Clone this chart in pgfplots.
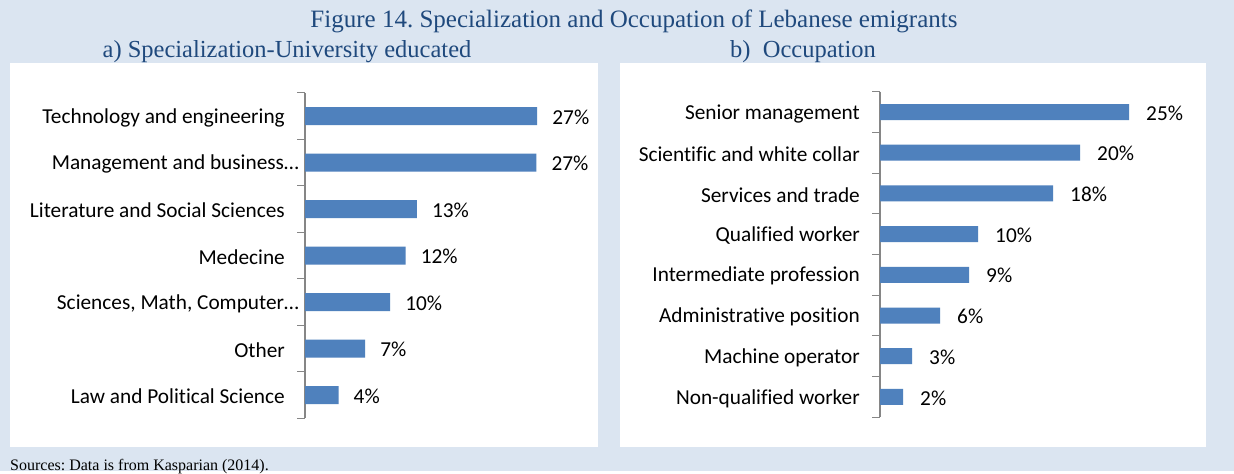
\documentclass[border=0pt]{standalone}
\usepackage{fontspec}
\setmainfont{Liberation Serif}
\newfontfamily\calfont[Ligatures=NoCommon]{Carlito}
\usepackage{pgfplots}
\pgfplotsset{compat=1.18}
\frenchspacing

\definecolor{bgc}{HTML}{DBE5F1}
\definecolor{barc}{HTML}{4F81BD}
\definecolor{ttl}{HTML}{1F497D}
\definecolor{axc}{HTML}{868686}

\newcommand\lblfont{\calfont\fontsize{21.3}{25}\selectfont}

\pgfplotsset{
  hbar/.style={
    xbar, bar shift=0pt,
    axis x line=none, axis y line*=left,
    y dir=reverse, xmin=0, xmax=30,
    anchor=origin, clip=false,
    tick align=outside, ytick pos=left,
    major tick length=0pt, minor tick length=8pt,
    tick style={axc, line width=1pt},
    axis line style={axc, line width=1.3pt},
    yticklabel style={font=\lblfont, black, anchor=east, inner sep=0pt, xshift=-20pt, yshift=-1.5pt},
    point meta=explicit symbolic,
    nodes near coords,
    every node near coord/.append style={font=\lblfont, black, inner sep=0pt, anchor=west, xshift=15pt, yshift=-1pt},
  }
}

\begin{document}
\begin{tikzpicture}
\fill[bgc] (0pt,0pt) rectangle (1234pt,-471pt);
\fill[white] (10pt,-63pt) rectangle (598pt,-447pt);
\fill[white] (620pt,-63pt) rectangle (1206pt,-447pt);

\node[anchor=base, font=\fontsize{25}{30}\selectfont, text=ttl] at (634pt,-27pt)
  {Figure 14. Specialization and Occupation of Lebanese emigrants};
\node[anchor=base, font=\fontsize{24.5}{29}\selectfont, text=ttl] at (287pt,-57pt)
  {a) Specialization-University educated};
\node[anchor=base, font=\fontsize{24.5}{29}\selectfont, text=ttl] at (803pt,-57pt)
  {b)\ \ Occupation};
\node[anchor=base west, font=\fontsize{16}{19}\selectfont, inner sep=0pt] at (10pt,-470pt)
  {Sources: Data is from Kasparian (2014).};

% a) specialization
\begin{axis}[hbar,
  at={(305pt,-116pt)}, x=8.6pt, y=46.5pt,
  ymin=-0.5, ymax=6.5,
  ytick={0,...,6},
  minor ytick={-0.5,0.5,...,6.5},
  yticklabels={Technology and engineering, {Management and business…\kern-14pt},
    Literature and Social Sciences, Medecine, {Sciences, Math, Computer…\kern-14pt},
    Other, Law and Political Science},
]
\addplot[fill=barc, draw=none, bar width=18pt] coordinates {
  (27,0) [27\%]
  (26.9,1) [27\%]
  (13,2) [13\%]
  (11.7,3) [12\%]
  (9.9,4) [10\%]
  (7,5) [7\%]
  (3.9,6) [4\%]
};
\end{axis}

% b) occupation
\begin{axis}[hbar,
  at={(880pt,-112pt)}, x=10pt, y=40.7pt,
  ymin=-0.5, ymax=7.5,
  ytick={0,...,7},
  minor ytick={-0.5,0.5,...,7.5},
  yticklabels={Senior management, Scientific and white collar,
    Services and trade, Qualified worker, Intermediate profession,
    Administrative position, Machine operator, Non-qualified worker},
  every node near coord/.append style={xshift=2pt},
]
\addplot[fill=barc, draw=none, bar width=16pt] coordinates {
  (24.9,0) [25\%]
  (20,1) [20\%]
  (17.3,2) [18\%]
  (9.8,3) [10\%]
  (8.9,4) [9\%]
  (6,5) [6\%]
  (3.2,6) [3\%]
  (2.3,7) [2\%]
};
\end{axis}
\end{tikzpicture}
\end{document}
